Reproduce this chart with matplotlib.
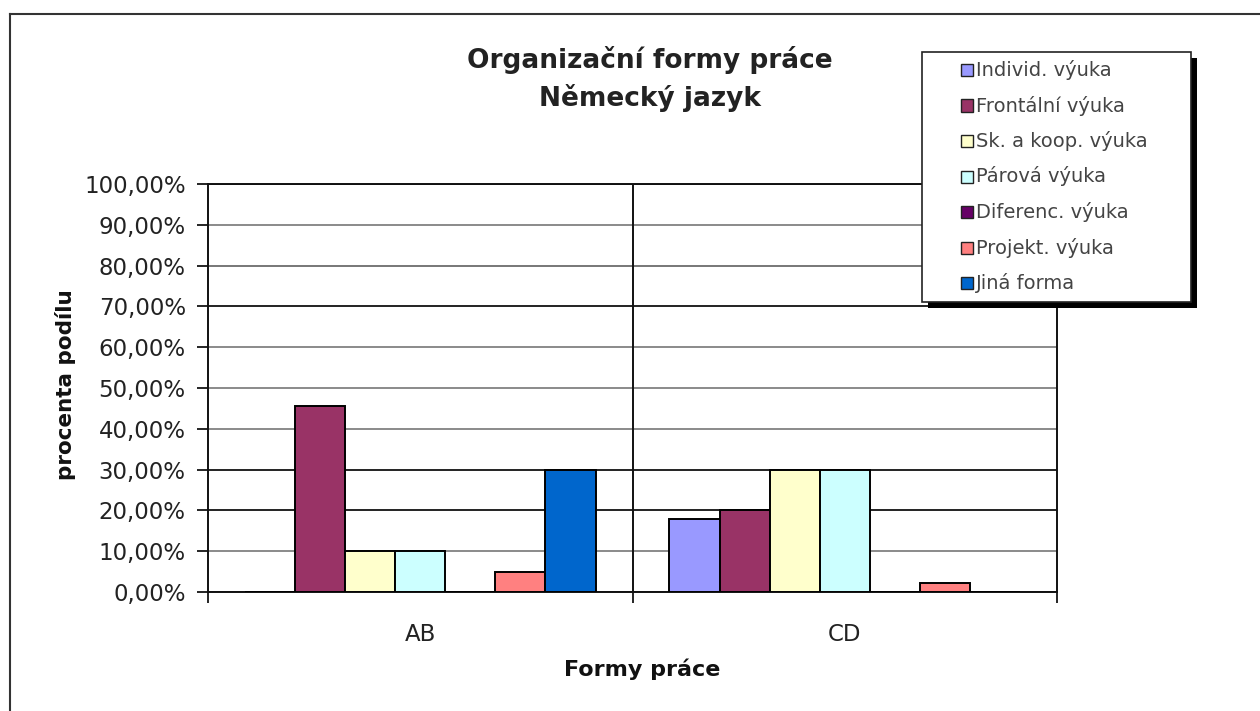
import matplotlib
matplotlib.use("Agg")
import matplotlib.pyplot as plt
from matplotlib.patches import Rectangle
from matplotlib.lines import Line2D
from matplotlib.ticker import FuncFormatter

# data
categories = ["AB", "CD"]
series_names = ["Individ. výuka", "Frontální výuka", "Sk. a koop. výuka", "Párová výuka",
                "Diferenc. výuka", "Projekt. výuka", "Jiná forma"]
individ = [0.0, 17.9]
frontalni = [45.5, 20.2]
skupinova = [10.0, 30.0]
parova = [10.0, 30.0]
diferenc = [0.0, 0.0]
projekt = [5.0, 2.2]
jina = [30.0, 0.0]
values = [individ, frontalni, skupinova, parova, diferenc, projekt, jina]
colors = ["#9999FF", "#993366", "#FFFFCC", "#CCFFFF", "#660066", "#FF8080", "#0066CC"]
y_ticks = [0, 10, 20, 30, 40, 50, 60, 70, 80, 90, 100]
grid_colors = ["#222222", "#8a8a8a", "#222222", "#222222", "#8a8a8a", "#8a8a8a",
               "#8a8a8a", "#222222", "#777777", "#8a8a8a", "#222222"]

W, H, DPI = 1260, 711, 100
plt.rcParams['font.family'] = ['DejaVu Sans']

fig = plt.figure(figsize=(W / DPI, H / DPI), dpi=DPI)
fig.patch.set_facecolor("white")
ax = fig.add_axes([208 / W, 1 - 592 / H, (1057 - 208) / W, (592 - 184) / H])

bar_w = 0.118
n = len(series_names)
for i, (name, vals, col) in enumerate(zip(series_names, values, colors)):
    xs = [c + (i - (n - 1) / 2) * bar_w for c in range(len(categories))]
    ax.bar(xs, vals, width=bar_w, color=col, edgecolor="black", linewidth=1.4,
           label=name, zorder=3)

ax.set_xlim(-0.5, len(categories) - 0.5)
ax.set_ylim(0, 100)

# horizontal grid
for yv, gc in zip(y_ticks, grid_colors):
    ax.axhline(yv, color=gc, linewidth=1.4, zorder=1)
# vertical category separator
ax.axvline(0.5, color="#111111", linewidth=1.4, zorder=1)

for s in ax.spines.values():
    s.set_color("#111111")
    s.set_linewidth(1.4)

ax.set_yticks(y_ticks)
ax.yaxis.set_major_formatter(FuncFormatter(lambda v, p: f"{v:.2f}%".replace(".", ",")))
ax.tick_params(axis="y", length=8, width=1.2, pad=8, labelsize=16.5, labelcolor="#222222")

ax.set_xticks([-0.5, 0.5, 1.5])
ax.set_xticklabels([])
ax.set_xticks(range(len(categories)), minor=True)
ax.set_xticklabels(categories, minor=True)
ax.tick_params(axis="x", which="major", length=8, width=1.2)
ax.tick_params(axis="x", which="minor", length=0, pad=22, labelsize=16.5, labelcolor="#222222")

fig.text(66 / W, 1 - 385 / H, "procenta podílu", rotation=90, ha="center",
         va="center", fontsize=15.5, fontweight="bold", color="#111111")
fig.text(642 / W, 1 - 669 / H, "Formy práce", ha="center", va="center",
         fontsize=16, fontweight="bold", color="#111111")
fig.text(650 / W, 1 - 60 / H, "Organizační formy práce", ha="center", va="center",
         fontsize=19, fontweight="bold", color="#222222")
fig.text(650 / W, 1 - 98 / H, "Německý jazyk", ha="center", va="center",
         fontsize=19, fontweight="bold", color="#222222")

# legend box with shadow
lx0, lx1, ly0, ly1 = 922, 1191, 52, 302
fig.patches.append(Rectangle(((lx0 + 6) / W, 1 - (ly1 + 6) / H), (lx1 - lx0) / W, (ly1 - ly0) / H,
                             transform=fig.transFigure, facecolor="black", edgecolor="none", zorder=5))
fig.patches.append(Rectangle((lx0 / W, 1 - ly1 / H), (lx1 - lx0) / W, (ly1 - ly0) / H,
                             transform=fig.transFigure, facecolor="white", edgecolor="#222222",
                             linewidth=1.2, zorder=6))
for i, (name, col) in enumerate(zip(series_names, colors)):
    yc = 70 + i * 35.5
    fig.patches.append(Rectangle((961 / W, 1 - (yc + 6) / H), 12 / W, 12 / H,
                                 transform=fig.transFigure, facecolor=col, edgecolor="#222222",
                                 linewidth=1.0, zorder=7))
    fig.text(976 / W, 1 - yc / H, name, ha="left", va="center", fontsize=14,
             color="#444444", zorder=8)

# outer chart border (top and left)
fig.lines.append(Line2D([10 / W, 1], [1 - 14 / H, 1 - 14 / H], transform=fig.transFigure,
                        color="#333333", linewidth=1.5))
fig.lines.append(Line2D([10 / W, 10 / W], [0, 1 - 14 / H], transform=fig.transFigure,
                        color="#333333", linewidth=1.5))

fig.savefig("out.png", dpi=DPI)
